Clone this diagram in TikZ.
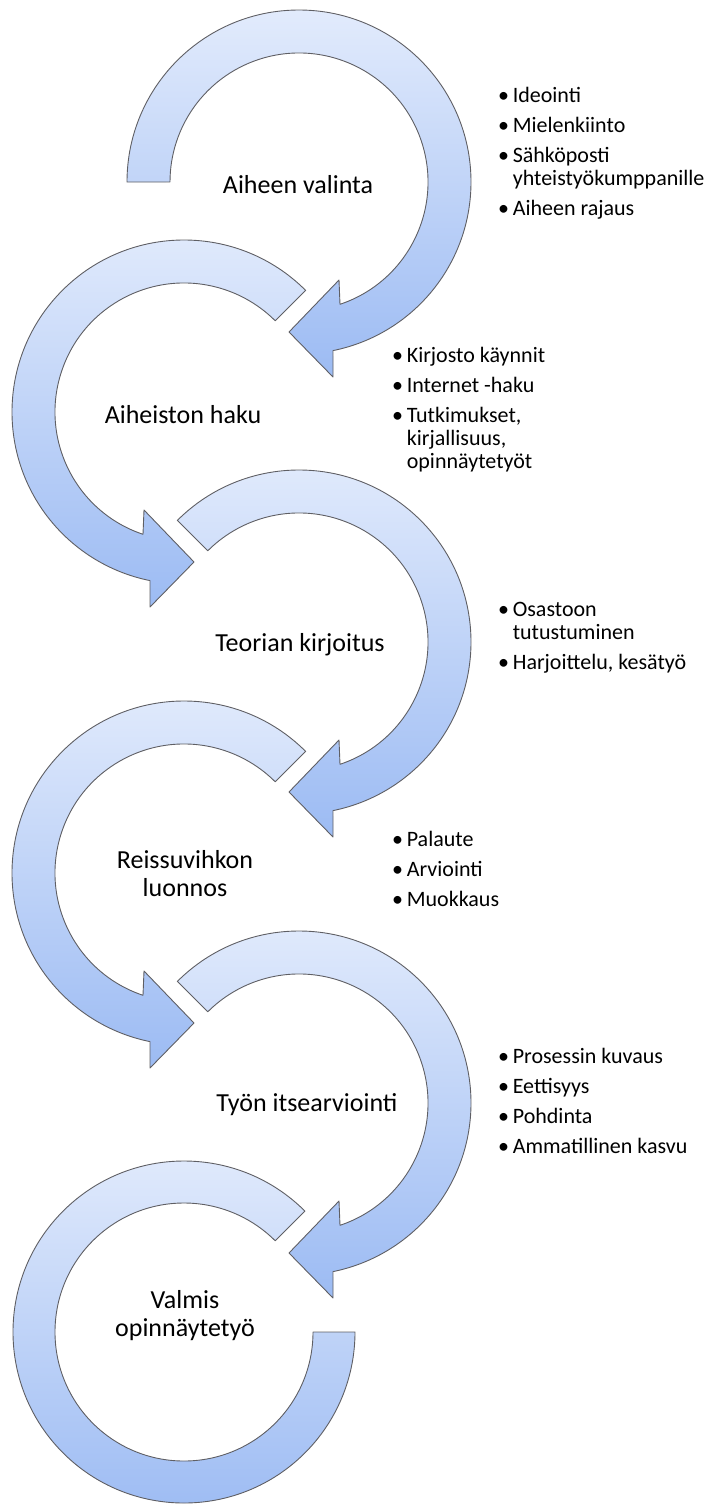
\documentclass[tikz,border=0pt]{standalone}
\usepackage{fontspec}
\setmainfont{Carlito}
\usepackage{xcolor}
\definecolor{vaalea}{RGB}{226,235,252}
\definecolor{sininen}{RGB}{156,187,243}
\definecolor{harmaa}{RGB}{95,95,100}
\usepackage{tikz}
\usetikzlibrary{positioning}

\begin{document}
\begin{tikzpicture}[
    x=1pt, y=1pt,
    band/.style={
      top color=vaalea, bottom color=sininen,
      draw=harmaa, line width=0.9pt, line join=round
    },
    steptext/.style={font=\fontsize{26}{28}\selectfont, align=center, inner sep=0pt},
    notes/.style={font=\fontsize{22}{23}\selectfont, align=left,
      anchor=north west, inner sep=0pt}
  ]
  \useasboundingbox (0,0) rectangle (726,-1505);

  % Right column arrows
  \begin{scope}[shift={(299,-182)}]
    \path[band] (180:172pt) arc[start angle=180, end angle=-78.6, radius=172pt]
      -- (34,-195) -- (-10,-150) -- (40,-98) -- (41,-122.3)
      arc[start angle=-71.47, end angle=180, radius=129pt] -- cycle;
  \end{scope}
  \begin{scope}[shift={(299,-642)}]
    \path[band] (135:172pt) arc[start angle=135, end angle=-78.6, radius=172pt]
      -- (34,-195) -- (-10,-150) -- (40,-98) -- (41,-122.3)
      arc[start angle=-71.47, end angle=135, radius=129pt] -- cycle;
  \end{scope}
  \begin{scope}[shift={(299,-1103)}]
    \path[band] (135:172pt) arc[start angle=135, end angle=-78.6, radius=172pt]
      -- (34,-195) -- (-10,-150) -- (40,-98) -- (41,-122.3)
      arc[start angle=-71.47, end angle=135, radius=129pt] -- cycle;
  \end{scope}

  % Left column arrows
  \begin{scope}[shift={(184,-412)}]
    \path[band] (45:172pt) arc[start angle=45, end angle=258.6, radius=172pt]
      -- (-34,-195) -- (10,-150) -- (-40,-98) -- (-41,-122.3)
      arc[start angle=251.47, end angle=45, radius=129pt] -- cycle;
  \end{scope}
  \begin{scope}[shift={(184,-873)}]
    \path[band] (45:172pt) arc[start angle=45, end angle=258.6, radius=172pt]
      -- (-34,-195) -- (10,-150) -- (-40,-98) -- (-41,-122.3)
      arc[start angle=251.47, end angle=45, radius=129pt] -- cycle;
  \end{scope}
  \begin{scope}[shift={(184,-1332)}]
    \path[band] (45:171pt) arc[start angle=45, end angle=360, radius=171pt]
      -- (129,0) arc[start angle=360, end angle=45, radius=129pt] -- cycle;
  \end{scope}

  % Step names
  \node[steptext] (valinta)       at (298,-185)  {Aiheen valinta};
  \node[steptext] (haku)          at (183,-415)  {Aiheiston haku};
  \node[steptext] (kirjoitus)     at (300,-645)  {Teorian kirjoitus};
  \node[steptext] (luonnos)       at (185,-874)  {Reissuvihkon\\luonnos};
  \node[steptext] (itsearviointi) at (307,-1105) {Työn itsearviointi};
  \node[steptext] (valmis)        at (185,-1316) {Valmis\\opinnäytetyö};

  % Notes beside the steps
  \node[notes] (ideat) at (498,-87)
    {•\,Ideointi\\[7pt]•\,Mielenkiinto\\[7pt]•\,Sähköposti\\\hphantom{•\,}yhteistyökumppanille\\[7pt]•\,Aiheen rajaus};
  \node[notes] (lahteet) at (392,-347)
    {•\,Kirjosto käynnit\\[7pt]•\,Internet -haku\\[7pt]•\,Tutkimukset,\\\hphantom{•\,}kirjallisuus,\\\hphantom{•\,}opinnäytetyöt};
  \node[notes] (osasto) at (498,-602)
    {•\,Osastoon\\\hphantom{•\,}tutustuminen\\[7pt]•\,Harjoittelu, kesätyö};
  \node[notes] (palaute) at (392,-831)
    {•\,Palaute\\[7pt]•\,Arviointi\\[7pt]•\,Muokkaus};
  \node[notes] (pohdinta) at (498,-1048)
    {•\,Prosessin kuvaus\\[7pt]•\,Eettisyys\\[7pt]•\,Pohdinta\\[7pt]•\,Ammatillinen kasvu};

\end{tikzpicture}
\end{document}
